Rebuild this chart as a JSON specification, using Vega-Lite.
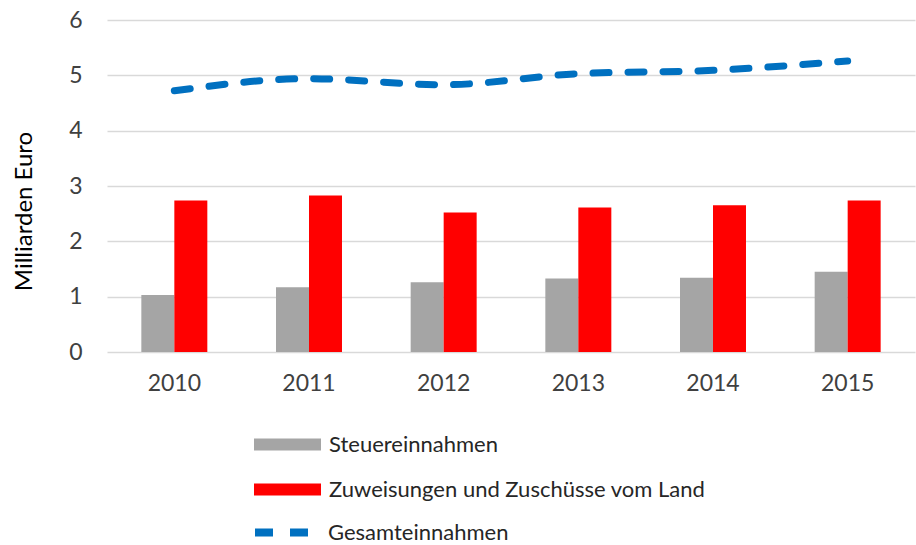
{
  "$schema": "https://vega.github.io/schema/vega-lite/v6.json",
  "width": 808,
  "height": 332,
  "autosize": {"type": "none"},
  "padding": {"left": 107, "top": 20, "right": 1, "bottom": 193},
  "background": "white",
  "config": {
    "font": "Lato",
    "view": {"stroke": null},
    "axisY": {"titleFontSize": 24, "titleFontWeight": "normal", "labelFontSize": 23},
    "axisX": {"labelFontSize": 23},
    "legend": {"labelFont": "Lato", "labelFontSize": 22, "labelLimit": 0}
  },
  "data": {
    "values": [
      {"Jahr": "2010", "Steuereinnahmen": 1.03, "Zuweisungen und Zuschüsse vom Land": 2.74, "Gesamteinnahmen": 4.72},
      {"Jahr": "2011", "Steuereinnahmen": 1.17, "Zuweisungen und Zuschüsse vom Land": 2.83, "Gesamteinnahmen": 4.94},
      {"Jahr": "2012", "Steuereinnahmen": 1.26, "Zuweisungen und Zuschüsse vom Land": 2.52, "Gesamteinnahmen": 4.83},
      {"Jahr": "2013", "Steuereinnahmen": 1.33, "Zuweisungen und Zuschüsse vom Land": 2.61, "Gesamteinnahmen": 5.03},
      {"Jahr": "2014", "Steuereinnahmen": 1.34, "Zuweisungen und Zuschüsse vom Land": 2.65, "Gesamteinnahmen": 5.09},
      {"Jahr": "2015", "Steuereinnahmen": 1.45, "Zuweisungen und Zuschüsse vom Land": 2.74, "Gesamteinnahmen": 5.26}
    ]
  },
  "encoding": {
    "x": {
      "field": "Jahr",
      "type": "nominal",
      "scale": {"paddingInner": 0.51, "paddingOuter": 0.255},
      "axis": {
        "title": null,
        "labelAngle": 0,
        "labelFontSize": 23,
        "labelColor": "#404040",
        "labelPadding": 20,
        "ticks": false,
        "domain": false,
        "grid": false
      }
    }
  },
  "layer": [
    {
      "transform": [
        {"fold": ["Steuereinnahmen", "Zuweisungen und Zuschüsse vom Land"], "as": ["Reihe", "Wert"]}
      ],
      "mark": {"type": "bar"},
      "encoding": {
        "xOffset": {
          "field": "Reihe",
          "type": "nominal",
          "sort": ["Steuereinnahmen", "Zuweisungen und Zuschüsse vom Land"],
          "scale": {"paddingInner": 0, "paddingOuter": 0}
        },
        "y": {
          "field": "Wert",
          "type": "quantitative",
          "scale": {"domain": [0, 6]},
          "axis": {
            "title": "Milliarden Euro",
            "titleFontSize": 24,
            "titleFontWeight": "normal",
            "titleColor": "#000000",
            "titleX": -71,
            "titleY": 191,
            "values": [0, 1, 2, 3, 4, 5, 6],
            "format": "d",
            "labelOverlap": false,
            "labelFontSize": 23,
            "labelColor": "#404040",
            "labelPadding": 25,
            "ticks": false,
            "domain": false,
            "gridColor": "#D9D9D9",
            "gridWidth": 1.5
          }
        },
        "color": {
          "field": "Reihe",
          "type": "nominal",
          "scale": {
            "domain": ["Steuereinnahmen", "Zuweisungen und Zuschüsse vom Land"],
            "range": ["#A5A5A5", "#FF0000"]
          },
          "legend": {
            "orient": "none",
            "legendX": 147,
            "legendY": 391,
            "direction": "vertical",
            "title": null,
            "padding": 0,
            "symbolType": "M-1,-0.18H1V0.18H-1Z",
            "symbolSize": 4489,
            "symbolStrokeWidth": 0,
            "labelFontSize": 22,
            "labelLimit": 0,
            "labelColor": "#262626",
            "labelOffset": 8,
            "rowPadding": -23
          }
        }
      }
    },
    {
      "mark": {
        "type": "line",
        "interpolate": "monotone",
        "strokeWidth": 7,
        "strokeDash": [16, 19],
        "strokeCap": "round"
      },
      "encoding": {
        "y": {"field": "Gesamteinnahmen", "type": "quantitative"},
        "stroke": {
          "datum": "Gesamteinnahmen",
          "type": "nominal",
          "scale": {"domain": ["Gesamteinnahmen"], "range": ["#0070C0"]},
          "legend": {
            "orient": "none",
            "legendX": 144,
            "legendY": 482,
            "title": null,
            "padding": 0,
            "symbolType": "stroke",
            "symbolSize": 2809,
            "symbolStrokeWidth": 8,
            "symbolDash": [18, 17],
            "symbolStrokeColor": "#0070C0",
            "labelFontSize": 22,
            "labelLimit": 0,
            "labelColor": "#262626",
            "labelOffset": 16
          }
        }
      }
    }
  ]
}
